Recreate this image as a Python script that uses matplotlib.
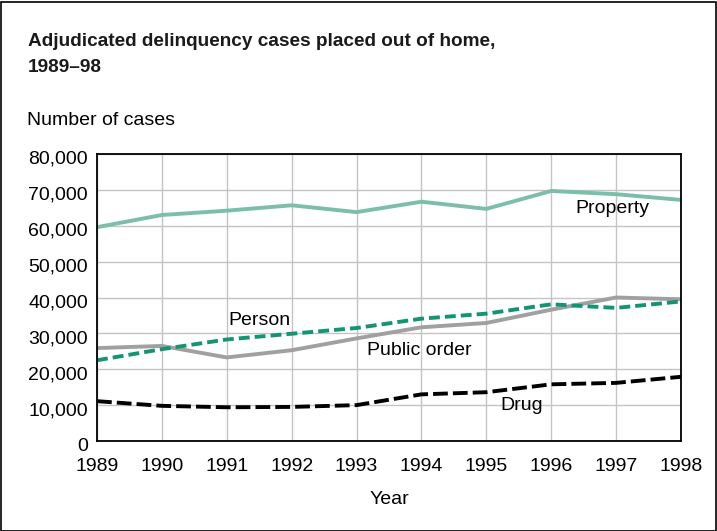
import matplotlib.pyplot as plt
import matplotlib.ticker as mticker
import matplotlib.transforms as mtransforms
from matplotlib.patches import Rectangle

plt.rcParams['font.family'] = ['Liberation Sans', 'DejaVu Sans']

years = [1989, 1990, 1991, 1992, 1993, 1994, 1995, 1996, 1997, 1998]
property_cases = [59600, 63000, 64200, 65700, 63800, 66700, 64700, 69700, 68800, 67200]
person_cases = [22500, 25600, 28300, 29900, 31500, 34100, 35500, 38100, 37100, 38900]
public_order_cases = [25900, 26500, 23300, 25300, 28600, 31700, 32900, 36600, 40000, 39500]
drug_cases = [11100, 9800, 9400, 9500, 10000, 13000, 13600, 15800, 16200, 17900]

fig = plt.figure(figsize=(7.17, 5.31), dpi=100)
W, H = 717, 531
ax = fig.add_axes([97 / W, 1 - 441 / H, (681 - 97) / W, (441 - 154) / H])

# Series
lw = 2.8
ax.plot(years, property_cases, color='#7bbfa9', linewidth=lw)
ax.plot(years, public_order_cases, color='#a0a0a0', linewidth=lw)
ax.plot(years, person_cases, color='#139573', linewidth=lw, linestyle=(0, (2.8, 1.3)))
ax.plot(years, drug_cases, color='black', linewidth=lw, linestyle=(0, (3.8, 1.3)))

# Inline labels
ax.text(1996.95, 64700, "Property", fontsize=14, ha='center', va='center')
ax.text(1991.5, 33500, "Person", fontsize=14, ha='center', va='center')
ax.text(1993.97, 25200, "Public order", fontsize=14, ha='center', va='center')
ax.text(1995.545, 9800, "Drug", fontsize=14, ha='center', va='center')

ax.set_xlim(1989, 1998)
ax.set_ylim(0, 80000)
ax.set_xticks(years)
ax.set_yticks(range(0, 80001, 10000))
ax.yaxis.set_major_formatter(mticker.FuncFormatter(lambda v, pos: f"{int(v):,}"))
ax.tick_params(length=0, labelsize=14)
ax.tick_params(axis='y', pad=6.5)
ax.tick_params(axis='x', pad=12)
ax.grid(True, color='#c4c4c4', linewidth=1)
ax.set_axisbelow(True)
for s in ax.spines.values():
    s.set_linewidth(1.3)

# y tick labels sit a little below their gridlines
shift = mtransforms.ScaledTranslation(0, -3.5 / 100, fig.dpi_scale_trans)
for lab in ax.get_yticklabels():
    lab.set_transform(lab.get_transform() + shift)

ax.set_xlabel("Year", fontsize=14, va='center')
ax.xaxis.set_label_coords(0.5, -(500 - 441) / (441 - 154))

# Titles
fig.text(28 / W, 1 - 41 / H, "Adjudicated delinquency cases placed out of home,", fontsize=13.7,
         fontweight='bold', color='#1a1a1a', ha='left', va='center')
fig.text(28 / W, 1 - 67 / H, "1989\u201398", fontsize=13.7, fontweight='bold', color='#1a1a1a',
         ha='left', va='center')
fig.text(27 / W, 1 - 121 / H, "Number of cases", fontsize=14, ha='left', va='center')

# Outer frame
fig.patches.append(Rectangle((0.5 / W, 0.5 / H), 1 - 2 / W, 1 - 2 / H, transform=fig.transFigure,
                             fill=False, edgecolor='black', linewidth=1.2))

fig.savefig("out.png", dpi=100)
